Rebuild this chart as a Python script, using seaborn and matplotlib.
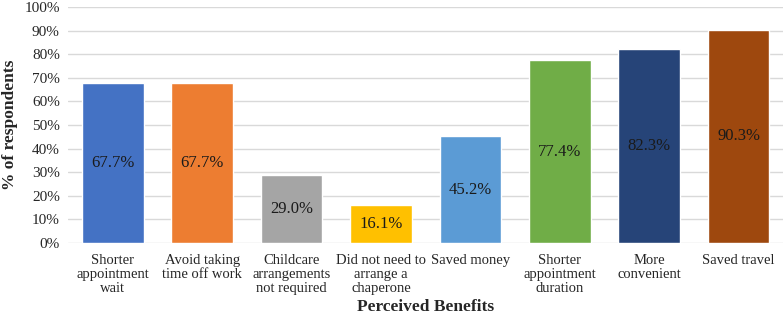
import matplotlib
matplotlib.use("Agg")
import matplotlib.pyplot as plt
import seaborn as sns
import pandas as pd
from matplotlib.ticker import PercentFormatter

# Data
benefits = ["Shorter\nappointment\nwait", "Avoid taking\ntime off work",
            "Childcare\narrangements\nnot required", "Did not need to\narrange a\nchaperone",
            "Saved money", "Shorter\nappointment\nduration", "More\nconvenient", "Saved travel"]
percent = [67.7, 67.7, 29.0, 16.1, 45.2, 77.4, 82.3, 90.3]
colors = ["#4472C4", "#ED7D31", "#A5A5A5", "#FFC000",
          "#5B9BD5", "#70AD47", "#264478", "#9E480E"]

df = pd.DataFrame({"benefit": benefits, "pct": percent})

sns.set_style("white")
plt.rcParams['font.family'] = ['Liberation Serif', 'DejaVu Serif']

fig = plt.figure(figsize=(7.84, 3.14), dpi=100)
ax = fig.add_axes([0.087, 0.226, 0.912, 0.752])

sns.barplot(data=df, x="benefit", y="pct", hue="benefit", palette=colors,
            legend=False, width=0.69, saturation=1, ax=ax, zorder=3)

for i, v in enumerate(percent):
    ax.text(i, v / 2, f"{v:.1f}%", ha="center", va="center",
            fontsize=12, color="#1a1a1a", zorder=4)

ax.set_ylim(0, 100)
ax.set_xlim(-0.5, len(benefits) - 0.5)
ax.set_yticks(range(0, 101, 10))
ax.yaxis.set_major_formatter(PercentFormatter(decimals=0))
ax.grid(axis="y", color="#D9D9D9", linewidth=1, zorder=0)
for s in ax.spines.values():
    s.set_visible(False)
ax.tick_params(axis="y", length=0, labelsize=11, colors="#262626", pad=6)
ax.tick_params(axis="x", length=0, labelsize=10.5, colors="#262626", pad=8)
plt.setp(ax.get_xticklabels(), linespacing=1.08)

ax.set_xlabel("Perceived Benefits", fontsize=12.5, fontweight="bold")
ax.set_ylabel("% of respondents", fontsize=12.5, fontweight="bold")
ax.xaxis.set_label_coords(0.5, -0.235)
ax.yaxis.set_label_coords(-0.07, 0.5)

fig.savefig("out.png", dpi=100)
